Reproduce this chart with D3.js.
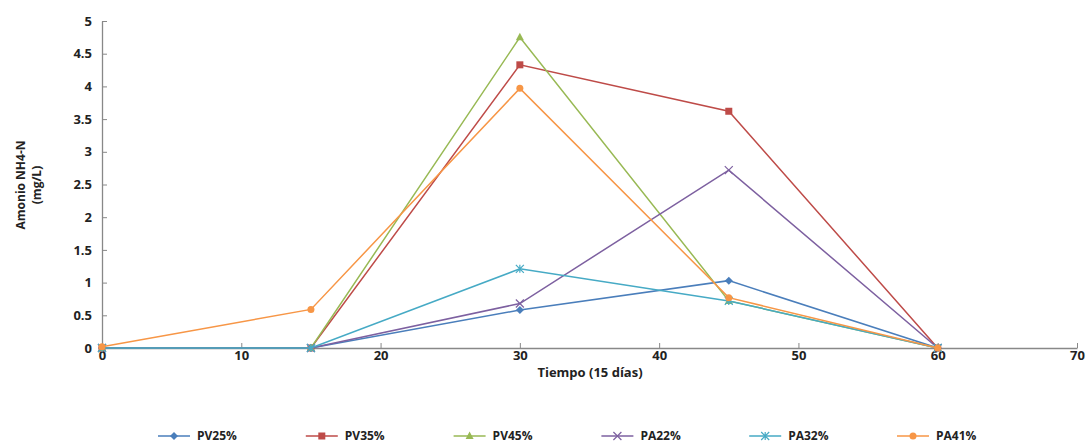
<!DOCTYPE html>
<html><head><meta charset="utf-8">
<script src="https://cdn.jsdelivr.net/npm/d3@7"></script>
<style>body{margin:0;background:#fff;} text{font-family:"Liberation Sans Narrow","Open Sans",sans-serif;font-weight:bold;fill:#222;}</style>
</head><body>
<svg id="c" width="1091" height="445"></svg>
<script>
const days = [0, 15, 30, 45, 60];
const seriesNames = ["PV25%", "PV35%", "PV45%", "PA22%", "PA32%", "PA41%"];
const PV25 = [0, 0, 0.58, 1.03, 0];
const PV35 = [0, 0, 4.33, 3.62, 0];
const PV45 = [0, 0, 4.75, 0.72, 0];
const PA22 = [0, 0, 0.68, 2.72, 0];
const PA32 = [0, 0, 1.21, 0.72, 0];
const PA41 = [0.02, 0.59, 3.97, 0.77, 0];
const xTicks = [0, 10, 20, 30, 40, 50, 60, 70];
const yTicks = [0, 0.5, 1, 1.5, 2, 2.5, 3, 3.5, 4, 4.5, 5];

const colors = ["#4A7EBB", "#BE4B48", "#98B954", "#7D60A0", "#46AAC5", "#F79646"];
const markers = ["diamond", "square", "triangle", "x", "star", "circle"];
const values = [PV25, PV35, PV45, PA22, PA32, PA41];

const svg = d3.select("#c");
const x = d3.scaleLinear().domain([0, 70]).range([102, 1077]);
const y = d3.scaleLinear().domain([0, 5]).range([348, 21]);

// axes
const xa = svg.append("g").attr("transform", "translate(0,348)")
  .call(d3.axisBottom(x).tickValues(xTicks).tickSize(5).tickSizeOuter(0).tickFormat(d3.format("d")));
const ya = svg.append("g").attr("transform", "translate(102,0)")
  .call(d3.axisLeft(y).tickValues(yTicks).tickSize(5).tickSizeOuter(0).tickFormat(d => String(d)));
[xa, ya].forEach(a => {
  a.select(".domain").attr("stroke", "#888").attr("stroke-width", 1.3);
  a.selectAll(".tick line").attr("stroke", "#888");
  a.selectAll(".tick text").attr("font-size", 13).attr("fill", "#222")
    .attr("font-family", "'Liberation Sans Narrow','Open Sans',sans-serif").attr("font-weight", "bold");
});
xa.selectAll(".tick line").attr("y2", -5);
xa.selectAll(".tick text").attr("y", 3).attr("dy", "0.71em");
ya.selectAll(".tick line").attr("x2", 5);
ya.selectAll(".tick text").attr("x", -10);

// axis titles
svg.append("text").attr("x", 590).attr("y", 377).attr("text-anchor", "middle").attr("font-size", 13)
  .text("Tiempo (15 días)");
const yt = svg.append("text").attr("transform", "translate(25,185) rotate(-90)").attr("text-anchor", "middle").attr("font-size", 12);
yt.append("tspan").attr("x", 0).attr("dy", 0).text("Amonio NH4-N");
yt.append("tspan").attr("x", 0).attr("dy", 16).text("(mg/L)");

function drawMarker(g, type, cx, cy, col) {
  if (type === "diamond") {
    g.append("path").attr("d", `M${cx},${cy-4}L${cx+4},${cy}L${cx},${cy+4}L${cx-4},${cy}Z`).attr("fill", col);
  } else if (type === "square") {
    g.append("rect").attr("x", cx-3.5).attr("y", cy-3.5).attr("width", 7).attr("height", 7).attr("fill", col);
  } else if (type === "triangle") {
    g.append("path").attr("d", `M${cx},${cy-4.5}L${cx+4},${cy+3}L${cx-4},${cy+3}Z`).attr("fill", col);
  } else if (type === "x") {
    g.append("path").attr("d", `M${cx-4},${cy-4}L${cx+4},${cy+4}M${cx-4},${cy+4}L${cx+4},${cy-4}`).attr("stroke", col).attr("stroke-width", 1.2);
  } else if (type === "star") {
    g.append("path").attr("d", `M${cx-4},${cy-4}L${cx+4},${cy+4}M${cx-4},${cy+4}L${cx+4},${cy-4}M${cx},${cy-4}L${cx},${cy+4}`).attr("stroke", col).attr("stroke-width", 1.2);
  } else {
    g.append("circle").attr("cx", cx).attr("cy", cy).attr("r", 3.5).attr("fill", col);
  }
}

const line = d3.line().x(d => x(d[0])).y(d => y(d[1]));
values.forEach((vals, i) => {
  const pts = days.map((d, j) => [d, vals[j]]);
  const g = svg.append("g");
  g.append("path").attr("d", line(pts)).attr("fill", "none").attr("stroke", colors[i]).attr("stroke-width", 1.5);
  pts.forEach(p => drawMarker(g, markers[i], x(p[0]), y(p[1]), colors[i]));
});

// legend
const legendX = d3.scaleLinear().domain([0, 5]).range([158, 897]);
seriesNames.forEach((name, i) => {
  const lx = legendX(i);
  const g = svg.append("g");
  g.append("line").attr("x1", lx).attr("x2", lx + 32).attr("y1", 436).attr("y2", 436).attr("stroke", colors[i]).attr("stroke-width", 1.5);
  drawMarker(g, markers[i], lx + 16, 436, colors[i]);
  g.append("text").attr("x", lx + 39).attr("y", 440).attr("font-size", 12).text(name);
});
</script>
</body></html>
